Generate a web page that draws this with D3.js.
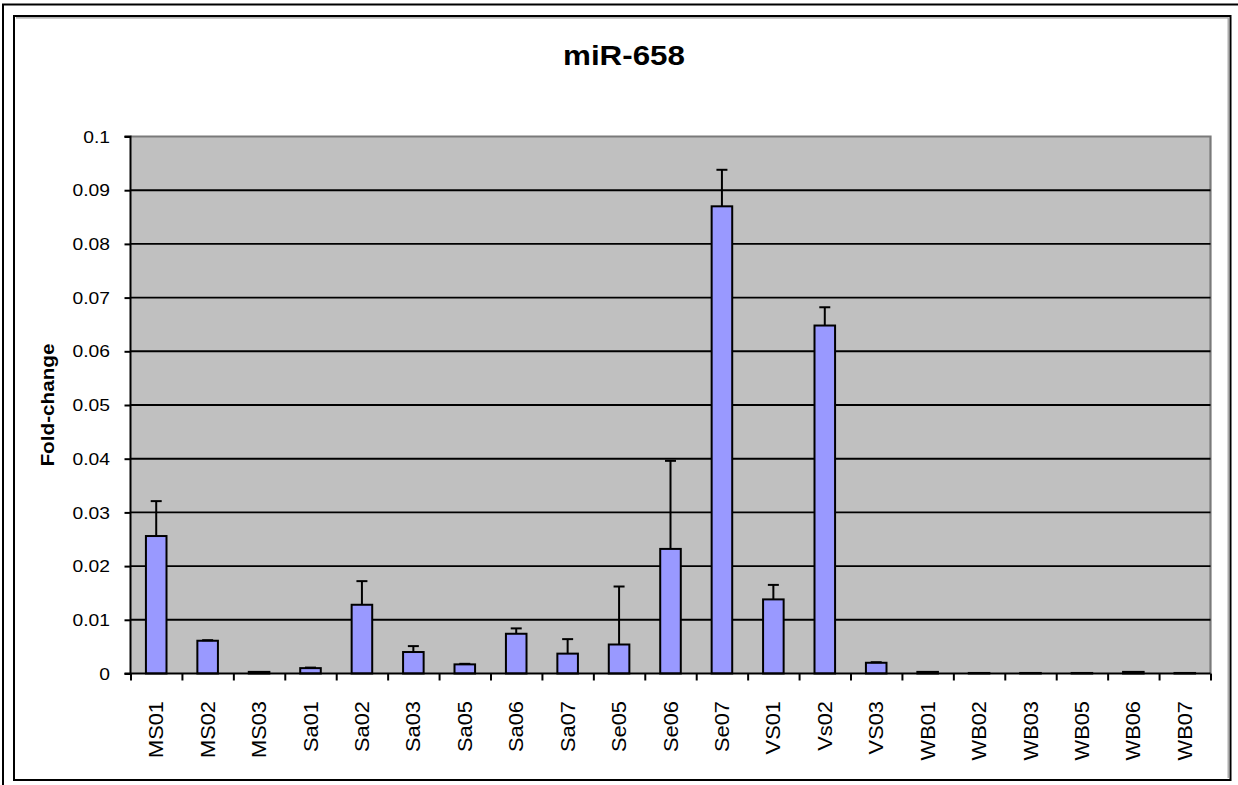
<!DOCTYPE html>
<html>
<head>
<meta charset="utf-8">
<script src="https://cdn.jsdelivr.net/npm/d3@7"></script>
<style>
  html, body { margin: 0; padding: 0; background: #fff; }
  svg { display: block; }
  text { font-family: "Liberation Sans", Arial, sans-serif; fill: #000; }
</style>
</head>
<body>
<svg id="chart" width="1238" height="785"></svg>
<script>
// ---- data ----
const categories = ["MS01","MS02","MS03","Sa01","Sa02","Sa03","Sa05","Sa06","Sa07","Se05","Se06","Se07","VS01","Vs02","VS03","WB01","WB02","WB03","WB05","WB06","WB07"];
const values =     [0.0256,0.0061,0.0003,0.0010,0.0128,0.0040,0.0017,0.0074,0.0037,0.0054,0.0232,0.0870,0.0138,0.0648,0.0020,0.0003,0.0001,0.0001,0.0001,0.0003,0.0001];
const errorsPlus = [0.0065,0.0001,0.0000,0.0001,0.0044,0.0011,0.0001,0.0010,0.0027,0.0108,0.0164,0.0068,0.0027,0.0034,0.0001,0.0000,0.0000,0.0000,0.0000,0.0000,0.0000];
const yTickValues = [0,0.01,0.02,0.03,0.04,0.05,0.06,0.07,0.08,0.09,0.1];
const yTickLabels = ["0","0.01","0.02","0.03","0.04","0.05","0.06","0.07","0.08","0.09","0.1"];
const chartTitle = "miR-658";
const yAxisTitle = "Fold-change";

// ---- layout ----
const W = 1238, H = 785;
const plot = { left: 130.5, right: 1210.5, top: 136.5, bottom: 673.5 };
const stretch = 1.12; // text is wider along its reading direction

const svg = d3.select("#chart");

// frames
svg.append("path").attr("d", `M3,785 L3,4.5 L1238,4.5`).attr("fill","none").attr("stroke","#000").attr("stroke-width",2);
svg.append("rect").attr("x",14).attr("y",16).attr("width",1216.5).attr("height",764)
  .attr("fill","#fff").attr("stroke","#000").attr("stroke-width",2);
svg.append("path").attr("d", `M16,17.8 L1228.2,17.8 L1228.2,778`).attr("fill","none").attr("stroke","#9a9a9a").attr("stroke-width",1.2);

// scales
const x = d3.scaleBand().domain(categories).range([plot.left, plot.right]).paddingInner(0.6).paddingOuter(0.3);
const xEdge = d3.scaleLinear().domain([0, categories.length]).range([plot.left, plot.right]);
const y = d3.scaleLinear().domain([0, 0.1]).range([plot.bottom, plot.top]);

// plot area
svg.append("rect").attr("x", plot.left).attr("y", plot.top)
  .attr("width", plot.right - plot.left).attr("height", plot.bottom - plot.top)
  .attr("fill", "#C0C0C0");
svg.append("path").attr("d", `M${plot.left},${plot.top} L${plot.right},${plot.top} L${plot.right},${plot.bottom}`)
  .attr("fill","none").attr("stroke","#7a7a7a").attr("stroke-width",2.2);

// gridlines
svg.append("g").selectAll("line").data(yTickValues.filter(v => v > 0 && v < 0.1)).join("line")
  .attr("x1", plot.left).attr("x2", plot.right)
  .attr("y1", d => y(d)).attr("y2", d => y(d))
  .attr("stroke", "#000").attr("stroke-width", 1.9);

// bars
svg.append("g").selectAll("rect").data(categories).join("rect")
  .attr("x", d => x(d))
  .attr("width", x.bandwidth())
  .attr("y", (d,i) => y(values[i]))
  .attr("height", (d,i) => y(0) - y(values[i]))
  .attr("fill", "#9999FF").attr("stroke", "#000").attr("stroke-width", 2);

// error bars (plus only)
const eb = svg.append("g").attr("stroke","#000").attr("stroke-width",2);
categories.forEach((c, i) => {
  if (errorsPlus[i] <= 0) return;
  const cx = x(c) + x.bandwidth() / 2;
  const y0 = y(values[i]), y1 = y(values[i] + errorsPlus[i]);
  eb.append("line").attr("x1", cx).attr("x2", cx).attr("y1", y0).attr("y2", y1);
  eb.append("line").attr("x1", cx - 5.5).attr("x2", cx + 5.5).attr("y1", y1).attr("y2", y1);
});

// y axis
const yAxis = d3.axisLeft(y).tickValues(yTickValues).tickSize(6).tickFormat("");
const gy = svg.append("g").attr("transform", `translate(${plot.left},0)`).call(yAxis);
gy.select(".domain").attr("stroke","#000").attr("stroke-width",2).attr("d", `M-6,${plot.top}H0V${plot.bottom}H-6`);
gy.selectAll(".tick line").attr("stroke","#000").attr("stroke-width",2);
svg.append("g").selectAll("text").data(yTickValues).join("text")
  .attr("transform", (d) => `translate(110,${y(d)}) scale(${stretch},1)`)
  .attr("text-anchor","end").attr("dy","0.36em")
  .style("font-size","17.2px")
  .text((d,i) => yTickLabels[i]);

// x axis
const xAxis = d3.axisBottom(xEdge).tickValues(d3.range(categories.length + 1)).tickSize(7).tickFormat("");
const gx = svg.append("g").attr("transform", `translate(0,${plot.bottom})`).call(xAxis);
gx.select(".domain").attr("stroke","#000").attr("stroke-width",2).attr("d", `M${plot.left},0H${plot.right}`);
gx.selectAll(".tick line").attr("stroke","#000").attr("stroke-width",2);
svg.append("g").selectAll("text").data(categories).join("text")
  .attr("transform", d => `translate(${x(d) + x.bandwidth()/2},701) rotate(-90) scale(${stretch},1)`)
  .attr("text-anchor","end").attr("dy","0.36em")
  .style("font-size","19.5px")
  .text(d => d);

// titles
svg.append("text")
  .attr("transform", `translate(624,65) scale(${stretch},1)`)
  .attr("text-anchor","middle")
  .style("font-size","28px").style("font-weight","bold")
  .text(chartTitle);
svg.append("text")
  .attr("transform", `translate(47,405) rotate(-90) scale(${stretch},1)`)
  .attr("text-anchor","middle").attr("dy","0.36em")
  .style("font-size","18.5px").style("font-weight","bold")
  .text(yAxisTitle);
</script>
</body>
</html>
